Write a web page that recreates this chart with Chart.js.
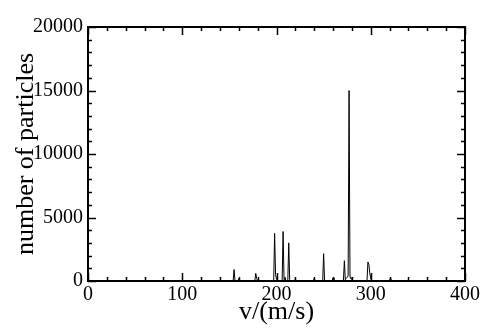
<!DOCTYPE html>
<html>
<head>
<meta charset="utf-8">
<script src="https://cdn.jsdelivr.net/npm/chart.js@4/dist/chart.umd.min.js"></script>
<style>
  html, body { margin: 0; padding: 0; background: #fff; }
  #wrap { width: 491px; height: 335px; position: relative; }
</style>
</head>
<body>
<div id="wrap"><canvas id="chart"></canvas></div>
<script>
// Histogram of particle speeds (bin = 1 m/s)
const speeds = [0,
  154, 155, 156,
  159, 160, 161,
  177, 178, 179, 180,
  197, 198, 199, 200, 201,
  206, 207, 208, 209, 210,
  212, 213, 214, 215,
  219, 220, 221,
  239, 240, 241,
  249, 250, 251,
  259, 260, 261,
  271, 272, 273, 274, 275, 276, 277, 278, 279, 280, 281,
  296, 297, 298, 299, 300, 301,
  320, 321, 322,
  400];
const counts = [0,
  0, 900, 0,
  0, 200, 0,
  0, 600, 200, 0,
  0, 3750, 500, 150, 0,
  0, 3900, 100, 300, 0,
  0, 3000, 100, 0,
  0, 150, 0,
  0, 200, 0,
  0, 2150, 0,
  0, 250, 0,
  0, 1600, 100, 200, 300, 400, 15000, 300, 200, 100, 0,
  0, 1500, 1300, 600, 200, 0,
  0, 250, 0,
  0];

const xMajor = 100, xMinor = 20, xMax = 400;
const yMajor = 5000, yMinor = 1000, yMax = 20000;

const serif = '"Liberation Serif", "DejaVu Serif", serif';

// frame + inward ticks on all four sides (xmgrace style)
const frameTicks = {
  id: 'frameTicks',
  afterDatasetsDraw(chart) {
    const { ctx, chartArea: a, scales: { x, y } } = chart;
    ctx.save();
    ctx.strokeStyle = '#000';
    ctx.lineWidth = 1.5;
    const seg = (x1, y1, x2, y2) => { ctx.beginPath(); ctx.moveTo(x1, y1); ctx.lineTo(x2, y2); ctx.stroke(); };
    for (let v = 0; v <= xMax; v += xMinor) {
      const px = Math.round(x.getPixelForValue(v)) + 0.5;
      const len = v % xMajor === 0 ? 8 : 4;
      seg(px, a.bottom, px, a.bottom - len);
      seg(px, a.top, px, a.top + len);
    }
    for (let v = 0; v <= yMax; v += yMinor) {
      const py = Math.round(y.getPixelForValue(v)) + 0.5;
      const len = v % yMajor === 0 ? 8 : 4;
      seg(a.left, py, a.left + len, py);
      seg(a.right, py, a.right - len, py);
    }
    ctx.lineWidth = 2;
    ctx.strokeRect(a.left, a.top, a.right - a.left, a.bottom - a.top);
    ctx.restore();
  }
};

new Chart(document.getElementById('chart'), {
  type: 'line',
  data: {
    datasets: [{
      data: speeds.map((v, i) => ({ x: v, y: counts[i] })),
      borderColor: '#000',
      borderWidth: 1,
      pointRadius: 0,
      tension: 0,
      fill: false
    }]
  },
  options: {
    responsive: true,
    maintainAspectRatio: false,
    animation: false,
    layout: { padding: { top: 27, right: 26, left: 0, bottom: 0 } },
    plugins: { legend: { display: false }, tooltip: { enabled: false } },
    scales: {
      x: {
        type: 'linear', min: 0, max: xMax,
        grid: { display: false, drawTicks: false },
        border: { display: false },
        ticks: { stepSize: xMajor, padding: 2, color: '#000', font: { family: serif, size: 20 }, maxRotation: 0,
                 callback: v => String(v) },
        title: { display: true, text: 'v/(m/s)', color: '#000', font: { family: serif, size: 26 }, padding: { top: 0, bottom: 7 } },
        afterFit: s => { s.height = 54; }
      },
      y: {
        min: 0, max: yMax,
        grid: { display: false, drawTicks: false },
        border: { display: false },
        ticks: { stepSize: yMajor, padding: 5, color: '#000', font: { family: serif, size: 20 },
                 callback: v => String(v) },
        title: { display: true, text: 'number of particles', color: '#000', font: { family: serif, size: 26 }, padding: { top: 11, bottom: 0 } },
        afterFit: s => { s.width = 88; }
      }
    }
  },
  plugins: [frameTicks]
});
</script>
</body>
</html>
